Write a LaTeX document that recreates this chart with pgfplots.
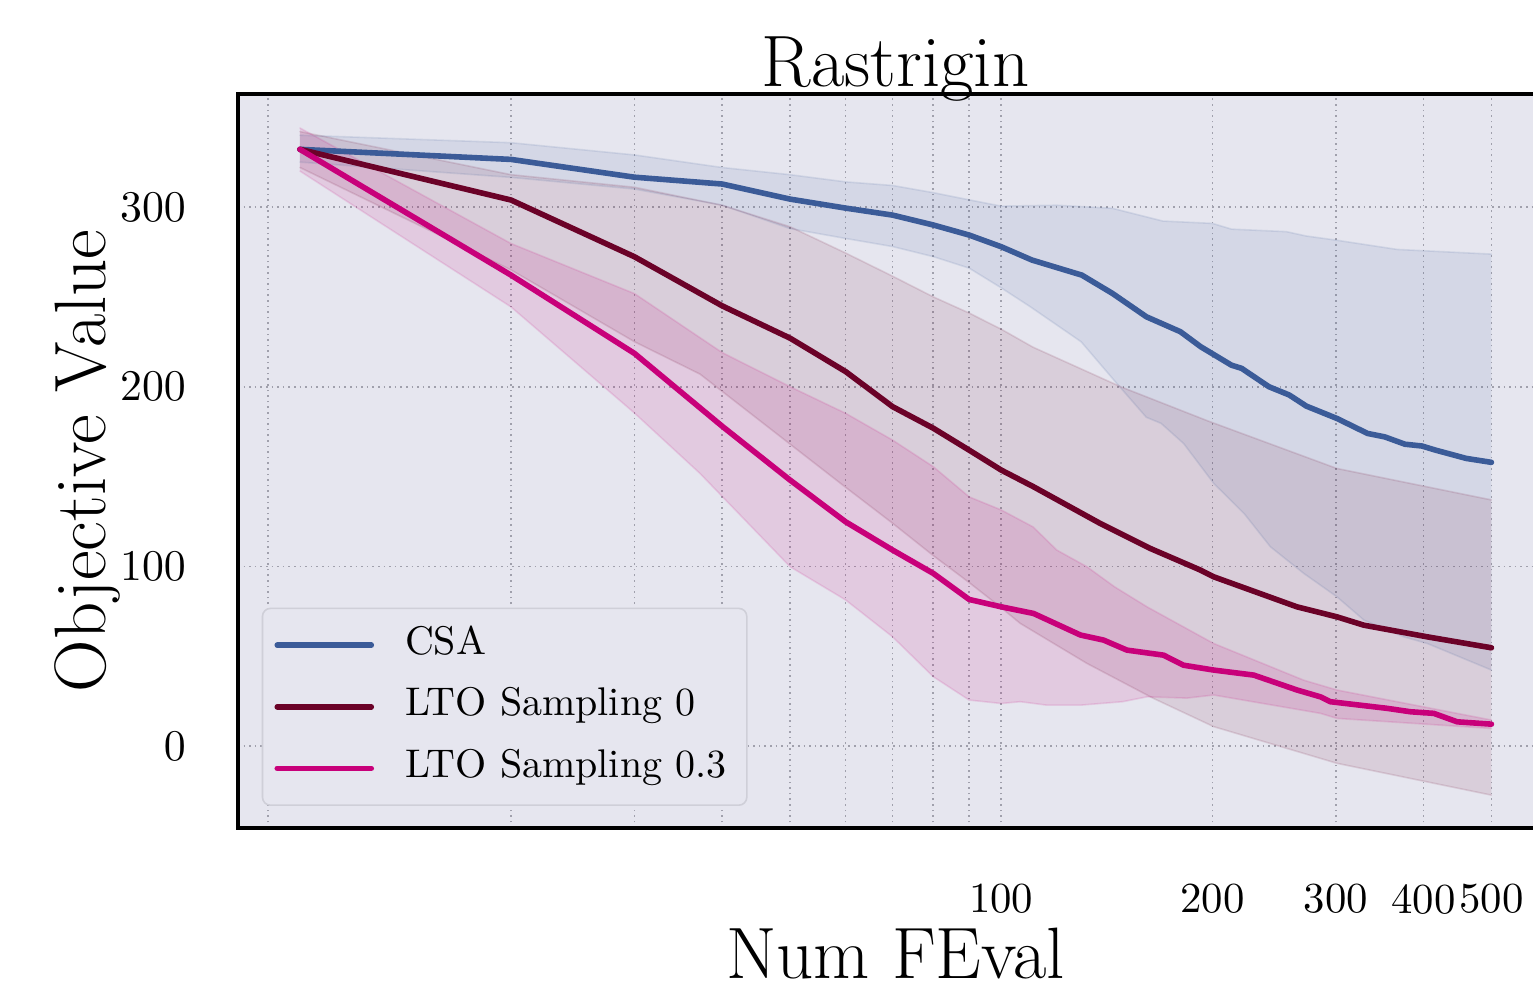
\documentclass[border=0pt]{standalone}
\usepackage{pgfplots}
\pgfplotsset{compat=1.18}
\usepgfplotslibrary{fillbetween}
\definecolor{csa}{HTML}{3B5B98}
\definecolor{ltoa}{HTML}{6B0228}
\definecolor{ltob}{HTML}{C8007A}
\definecolor{bgcol}{HTML}{E6E6EF}
\definecolor{gridcol}{HTML}{A0A0AC}
\definecolor{legcol}{HTML}{CFCFD8}

\begin{document}
\begin{tikzpicture}
\begin{axis}[
  scale only axis,
  width=328.75pt, height=183.5pt,
  xmode=log, xmin=8.16, xmax=612,
  ymin=-45.6, ymax=362.9,
  xtick={9,20,30,40,50,60,70,80,90,100,200,300,400,500},
  xticklabels={,,,,,,,,,100,200,300,400,500},
  minor xtick={},
  ytick={0,100,200,300},
  major tick length=0pt,
  grid=major,
  grid style={densely dotted, line width=0.4pt, color=gridcol},
  axis line style={line width=0.9pt, black},
  axis background/.style={fill=bgcol},
  tick label style={font=\fontsize{10.7}{12}\selectfont},
  xticklabel style={yshift=-10.5pt},
  yticklabel style={xshift=-9.5pt},
  title={Rastrigin},
  title style={font=\fontsize{18.2}{20}\selectfont, at={(0.5,1)}, anchor=base, yshift=-4.2pt},
  xlabel={Num FEval},
  xlabel style={font=\fontsize{18.2}{20}\selectfont, at={(0.5,0)}, anchor=base, yshift=-37.5pt},
  ylabel={Objective Value},
  ylabel style={font=\fontsize{18.2}{20}\selectfont, at={(-0.1011,0.5)}, anchor=base},
  legend cell align=left,
  legend style={at={(0.018,0.03)}, anchor=south west, draw=legcol, line width=0.4pt,
    fill=bgcol, rounded corners=2pt, font=\fontsize{10}{12}\selectfont,
    inner xsep=3pt, inner ysep=2pt, row sep=1pt,
    nodes={inner xsep=2pt, inner ysep=2.5pt, text height=7pt, text depth=2.4pt}},
  legend image code/.code={\draw[#1] (0pt,0pt) -- (23.5pt,0pt); \path (29.25pt,0pt);},
  every axis plot/.append style={line join=round, line cap=round},
]
\coordinate (sw) at (rel axis cs:0,0);

% CSA band
\addplot[name path=cu, draw=csa, draw opacity=0.12, line width=0.4pt, forget plot] coordinates {
  (10,340)(20,335.8)(30,329)(40,322)(50,318)(60,314)(70,312)(80,308)(90,304)(100,300.5)
  (120,301)(144,299.3)(170,292.2)(200,290.9)(213,287.7)(255,286.3)(272,283.9)(300,281.6)
  (367,276.4)(500,273.8)};
\addplot[name path=cl, draw=csa, draw opacity=0.12, line width=0.4pt, forget plot] coordinates {
  (10,325)(20,316.5)(30,310)(40,301)(50,288)(60,282.5)(70,278)(80,272.4)(90,266)(100,255)
  (110,244.5)(130,225)(146,202)(161,183)(169,179.6)(182,168.4)(201,146.1)(222,129.4)
  (242,110.9)(270,96.1)(301,83.1)(329,70.1)(375,60.8)(405,57.1)(500,42.3)};
\addplot[fill=csa, fill opacity=0.10, draw=none, forget plot] fill between[of=cu and cl];

% LTO Sampling 0 band
\addplot[name path=au, draw=ltoa, draw opacity=0.12, line width=0.4pt, forget plot] coordinates {
  (10,342)(20,318)(30,311)(40,301)(50,289)(60,274.4)(70,261.5)(80,250)(90,241)(100,232)
  (111,222)(148,200)(197,181)(301,154.5)(500,137)};
\addplot[name path=al, draw=ltoa, draw opacity=0.12, line width=0.4pt, forget plot] coordinates {
  (10,322)(20,265)(30,225)(37.2,207)(50,168)(60,144)(70,124)(80,106)(90,91)(100,77)
  (106.4,68.3)(132.5,46)(164.9,26.5)(200.9,10.8)(301.2,-9.6)(500,-27.3)};
\addplot[fill=ltoa, fill opacity=0.10, draw=none, forget plot] fill between[of=au and al];

% LTO Sampling 0.3 band
\addplot[name path=bu, draw=ltob, draw opacity=0.12, line width=0.4pt, forget plot] coordinates {
  (10,344)(20,279.7)(30,251.8)(40,219)(50,200)(60,185.2)(70,170.3)(80,155.5)(90,138.7)
  (100,131.4)(111,122)(120,109.1)(132.5,99.8)(145,88.7)(161.4,77.5)(200.9,57.1)
  (269.9,36.7)(301.2,31.2)(500,14.5)};
\addplot[name path=bl, draw=ltob, draw opacity=0.12, line width=0.4pt, forget plot] coordinates {
  (10,320)(20,244.4)(30,185.3)(37.2,151.7)(50,99.8)(60,81.3)(70,60.8)(80,38.6)(90,25.6)
  (100,23.7)(106.4,24.7)(116,22.8)(130,22.8)(149,24.7)(161.4,27.4)(184,26.7)(200.9,28.4)
  (285.2,18.2)(301.2,15.4)(500,9.8)};
\addplot[fill=ltob, fill opacity=0.12, draw=none, forget plot] fill between[of=bu and bl];

% mean curves
\addplot[csa, line width=1.4pt] coordinates {
  (10,332.1)(20,326.5)(30,316.6)(40,312.8)(50,304.4)(60,299.4)(70,295.5)(80,290)(90,284.4)
  (100,277.9)(110.6,270.5)(130.3,262.1)(144.1,251.9)(161.1,238.9)(180.1,230.6)(192.6,222.2)
  (212.9,212)(220.2,210.2)(240.8,200)(257.4,195.4)(272.3,189.2)(301.2,182.3)(332.9,174)
  (352.1,172.1)(376.4,168)(398,167)(416.2,164.7)(460.2,160.1)(500,157.9)};
\addlegendentry{CSA}
\addplot[ltoa, line width=1.4pt] coordinates {
  (10,332.1)(20,303.9)(30,272.3)(40,245)(50,227)(60,208.4)(70,188.9)(80,176.9)(90,164.7)
  (100,153.6)(111.2,144.3)(138.4,123.9)(163.1,110)(192.2,98)(200.9,94.2)(264,77.5)
  (301.2,71.9)(328.7,67.3)(405,60.8)(500,54.7)};
\addlegendentry{LTO Sampling 0}
\addplot[ltob, line width=1.4pt] coordinates {
  (10,332.1)(20,262.1)(30,218.5)(40,178)(50,148)(60,124.8)(70,109.1)(80,96.1)(90,81.6)
  (100,77.5)(111.2,73.8)(129.7,61.8)(139.9,59)(151.1,53.4)(170.4,50.6)(182,45)(200.9,42.3)
  (229.1,39.5)(264.1,31.2)(285.2,27.4)(294.6,24.7)(355,21)(383.3,19.1)(413.8,18.2)
  (446.8,13.5)(500,12.2)};
\addlegendentry{LTO Sampling 0.3}
\end{axis}
\pgfresetboundingbox
\path (sw) ++(-59.5pt,-40.25pt) rectangle ++(383.25pt,247.25pt);
\end{tikzpicture}
\end{document}
